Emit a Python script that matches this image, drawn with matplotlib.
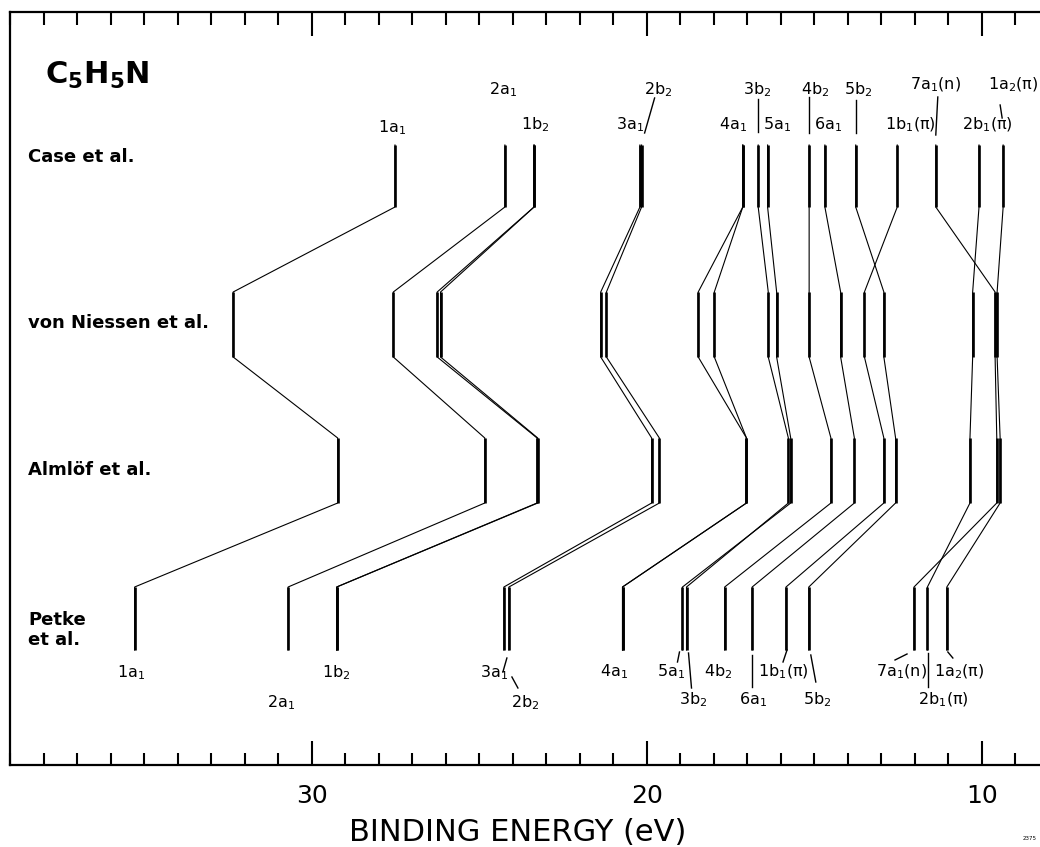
import numpy as np
import matplotlib
matplotlib.use('Agg')
import matplotlib.pyplot as plt
from matplotlib.ticker import MultipleLocator

plt.rcParams['font.family'] = ['DejaVu Sans']
plt.rcParams['mathtext.default'] = 'regular'

# one path per line drawn (1b2 and 4a1 split into two lines in the von Niessen row)
orbital = ['1a1', '2a1', '1b2', '1b2', '3a1', '2b2', '4a1', '4a1', '3b2', '5a1',
           '4b2', '6a1', '5b2', '1b1', '7a1', '2b1', '1a2']
case_e = [27.51, 24.23, 23.36, 23.36, 20.20, 20.15, 17.13, 17.13, 16.67, 16.39,
          15.15, 14.68, 13.76, 12.52, 11.37, 10.08, 9.36]
niessen_e = [32.34, 27.56, 26.25, 26.15, 21.37, 21.20, 18.46, 17.98, 16.37, 16.12,
             15.15, 14.21, 12.92, 13.50, 9.60, 10.27, 9.54]
almlof_e = [29.22, 24.83, 23.27, 23.25, 19.85, 19.62, 17.02, 17.02, 15.77, 15.70,
            14.50, 13.80, 12.57, 12.92, 9.55, 10.35, 9.45]
petke_e = [35.28, 30.70, 29.25, 29.25, 24.26, 24.11, 20.72, 20.72, 18.81, 18.93,
           17.67, 16.85, 15.16, 15.84, 12.02, 11.62, 11.04]

label_txt = {'1a1': '1a$_1$', '2a1': '2a$_1$', '1b2': '1b$_2$', '3a1': '3a$_1$',
             '2b2': '2b$_2$', '4a1': '4a$_1$', '3b2': '3b$_2$', '5a1': '5a$_1$',
             '4b2': '4b$_2$', '6a1': '6a$_1$', '5b2': '5b$_2$', '1b1': '1b$_1$(\u03c0)',
             '7a1': '7a$_1$(n)', '2b1': '2b$_1$(\u03c0)', '1a2': '1a$_2$(\u03c0)'}
row_names = ['Case et al.', 'von Niessen et al.', 'Alml\u00f6f et al.', 'Petke\net al.']

# layout (pixel rows of the 1040x847 image)
rows = [(145, 207), (292, 357), (438, 503), (587, 650)]
row_label_y = [157, 323, 470, 630]
top_lab = {'1a1': (-3, 128), '2a1': (-2, 90), '1b2': (1, 125), '3a1': (-10, 125),
           '2b2': (17, 90), '4a1': (-10, 125), '3b2': (-1, 90), '5a1': (9, 125),
           '4b2': (6, 90), '6a1': (3, 125), '5b2': (3, 90), '1b1': (13, 125),
           '7a1': (0, 85), '2b1': (8, 125), '1a2': (10, 85)}
top_lead = {'2b2': (13, 98, 3, 133), '3b2': (0, 99, 0, 132), '4b2': (0, 97, 0, 133),
            '5b2': (0, 100, 0, 133), '7a1': (2, 97, 0, 135), '1a2': (-3, 105, -1, 118)}
bot_lab = {'1a1': (-4, 673), '2a1': (-7, 703), '1b2': (0, 673), '3a1': (-10, 673),
           '2b2': (16, 703), '4a1': (-8, 672), '5a1': (-11, 672), '3b2': (7, 700),
           '4b2': (-6, 672), '6a1': (1, 700), '1b1': (-3, 672), '5b2': (8, 700),
           '7a1': (-13, 672), '1a2': (12, 672), '2b1': (16, 700)}
bot_lead = {'3a1': (3, 658, -1, 672), '2b2': (3, 677, 9, 688), '5a1': (-3, 652, -5, 662),
            '3b2': (2, 653, 5, 688), '6a1': (0, 655, 0, 687), '1b1': (1, 650, -3, 662),
            '5b2': (2, 655, 7, 682), '7a1': (-7, 654, -19, 660), '1a2': (1, 652, 6, 658),
            '2b1': (1, 653, 1, 687)}

W, H = 1040, 847
fig = plt.figure(figsize=(W / 100, H / 100), dpi=100)
ax = fig.add_axes([10 / W, (H - 765) / H, 1030 / W, (765 - 12) / H])
xmin, xmax = 39.0, 8.26
ax.set_xlim(xmin, xmax)
ax.set_ylim(765, 12)
ppe = 1030 / (xmin - xmax)  # pixels per eV

for i in range(len(orbital)):
    es = [case_e[i], niessen_e[i], almlof_e[i], petke_e[i]]
    xs, ys = [], []
    for e, (t, b) in zip(es, rows):
        xs += [e, e]
        ys += [t, b]
    ax.plot(xs, ys, color='black', lw=0.8)
    for e, (t, b) in zip(es, rows):
        ax.plot([e, e], [t, b], color='black', lw=1.9, solid_capstyle='butt')

def first(name, arr):
    return arr[orbital.index(name)]

for name, (dx, y) in top_lab.items():
    e = first(name, case_e)
    ax.text(e - dx / ppe, y, label_txt[name], ha='center', va='center', fontsize=11.5)
for name, (dx1, y1, dx2, y2) in top_lead.items():
    e = first(name, case_e)
    ax.plot([e - dx1 / ppe, e - dx2 / ppe], [y1, y2], color='black', lw=1.0)
for name, (dx, y) in bot_lab.items():
    e = first(name, petke_e)
    ax.text(e - dx / ppe, y, label_txt[name], ha='center', va='center', fontsize=11.5)
for name, (dx1, y1, dx2, y2) in bot_lead.items():
    e = first(name, petke_e)
    ax.plot([e - dx1 / ppe, e - dx2 / ppe], [y1, y2], color='black', lw=1.0)

for name, y in zip(row_names, row_label_y):
    fig.text(28 / W, 1 - y / H, name, ha='left', va='center', fontsize=13,
             fontweight='semibold', linespacing=1.1)

fig.text(45 / W, 1 - 75 / H, 'C$_5$H$_5$N', ha='left', va='center', fontsize=22,
         fontweight='bold')

ax.xaxis.set_major_locator(MultipleLocator(10))
ax.xaxis.set_minor_locator(MultipleLocator(1))
ax.tick_params(axis='x', which='both', direction='in', top=True, bottom=True,
               width=1.5, labelsize=18, pad=14)
ax.tick_params(axis='x', which='major', length=17)
ax.tick_params(axis='x', which='minor', length=9)
ax.set_yticks([])
for s in ['top', 'bottom', 'left']:
    ax.spines[s].set_linewidth(1.6)
ax.spines['right'].set_visible(False)

fig.text(518 / W, 1 - 832 / H, 'BINDING ENERGY (eV)', ha='center', va='center', fontsize=22)
fig.text(1030 / W, 1 - 838 / H, '2375', ha='center', va='center', fontsize=4)

fig.savefig('out.png', dpi=100)
